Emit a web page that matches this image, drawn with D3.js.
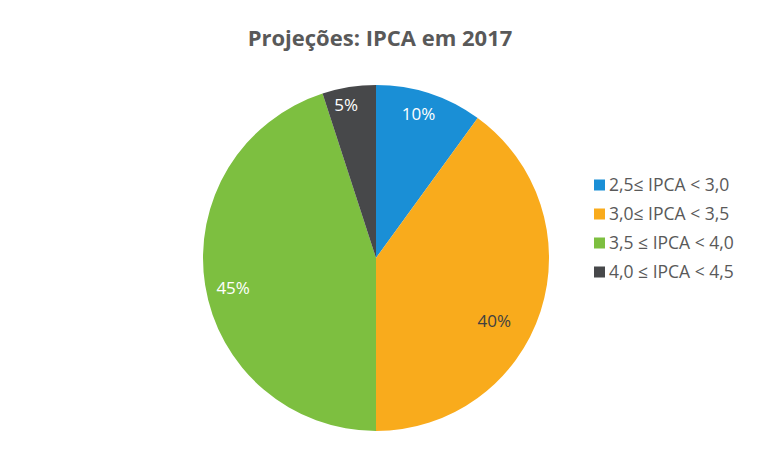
<!DOCTYPE html>
<html><head><meta charset="utf-8">
<script src="https://cdn.jsdelivr.net/npm/d3@7/dist/d3.min.js"></script>
<style>body{margin:0;background:#fff;} text{font-family:"Open Sans",sans-serif;}</style>
</head><body><svg id="c" width="764" height="453"></svg>
<script>
const categories = ["2,5\u2264 IPCA < 3,0", "3,0\u2264 IPCA < 3,5", "3,5 \u2264 IPCA < 4,0", "4,0 \u2264 IPCA < 4,5"];
const values = [10, 40, 45, 5];
const labels = ["10%", "40%", "45%", "5%"];
const colors = ["#1a8fd6", "#f9ab1c", "#7dbf40", "#47484a"];
const labelColors = ["#ffffff", "#404040", "#ffffff", "#ffffff"];
// label placement (radius, angle nudge in degrees) - style only
const labelRadius = [150, 134, 146, 156];
const labelNudge = [-1.5, 10, -2.9, -2];

const svg = d3.select("#c");
const cx = 376, cy = 258, R = 173;
const g = svg.append("g").attr("transform", `translate(${cx},${cy})`);
const pie = d3.pie().sort(null).value(d => d)(values);
const arc = d3.arc().innerRadius(0).outerRadius(R);
g.selectAll("path").data(pie).join("path")
  .attr("d", arc).attr("fill", (d,i) => colors[i]);
g.selectAll("text.lbl").data(pie).join("text").attr("class","lbl")
  .attr("transform", (d,i) => {
    const a = (d.startAngle + d.endAngle)/2 + labelNudge[i]*Math.PI/180;
    const r = labelRadius[i];
    return `translate(${Math.sin(a)*r},${-Math.cos(a)*r})`;
  })
  .attr("text-anchor","middle").attr("dy","0.35em")
  .attr("font-size", 17).attr("fill", (d,i) => labelColors[i])
  .text((d,i) => labels[i]);

svg.append("text").attr("x", 380).attr("y", 46).attr("text-anchor","middle")
  .attr("font-size", 22).attr("font-weight","bold").attr("fill","#595959")
  .text("Projeções: IPCA em 2017");

const leg = svg.append("g").attr("transform","translate(594,185)");
const items = leg.selectAll("g").data(categories).join("g")
  .attr("transform",(d,i)=>`translate(0,${i*29})`);
items.append("rect").attr("x",0).attr("y",-5.5).attr("width",11).attr("height",11)
  .attr("fill",(d,i)=>colors[i]);
items.append("text").attr("x",15).attr("dy","0.35em").attr("font-size",17.5)
  .attr("fill","#595959").text(d=>d);
</script></body></html>
